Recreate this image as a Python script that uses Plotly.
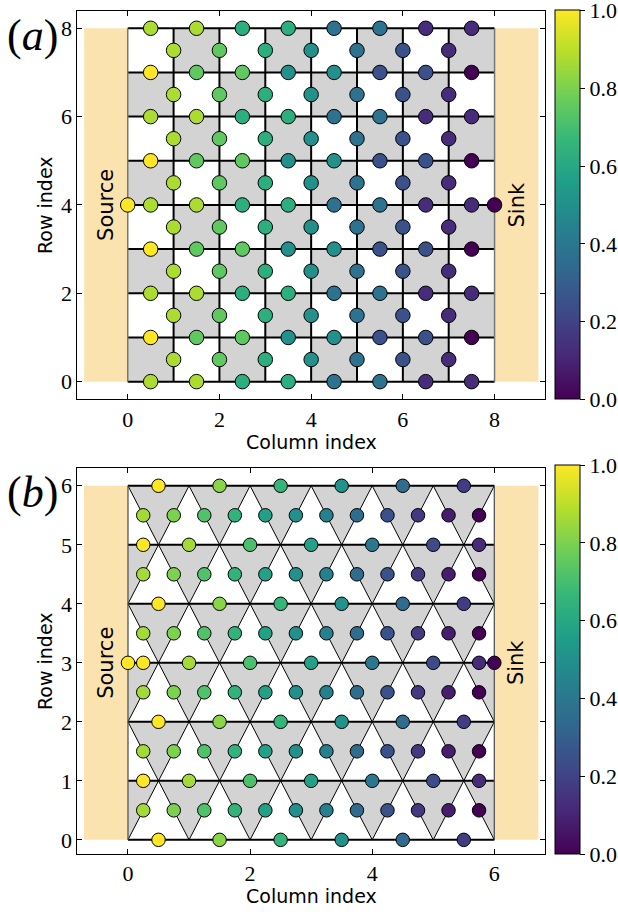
import plotly.graph_objects as go

# ---------------- data: panel (a), square lattice ----------------
# values on horizontal edges, rows 0..8, columns 0..7 (edge centres at c+0.5)
a_h_vals = [
    [0.875, 0.875, 0.625, 0.625, 0.375, 0.375, 0.125, 0.125],  # row 0
    [1.000, 0.750, 0.750, 0.500, 0.500, 0.250, 0.250, 0.000],  # row 1
    [0.875, 0.875, 0.625, 0.625, 0.375, 0.375, 0.125, 0.125],  # row 2
    [1.000, 0.750, 0.750, 0.500, 0.500, 0.250, 0.250, 0.000],  # row 3
    [0.875, 0.875, 0.625, 0.625, 0.375, 0.375, 0.125, 0.125],  # row 4
    [1.000, 0.750, 0.750, 0.500, 0.500, 0.250, 0.250, 0.000],  # row 5
    [0.875, 0.875, 0.625, 0.625, 0.375, 0.375, 0.125, 0.125],  # row 6
    [1.000, 0.750, 0.750, 0.500, 0.500, 0.250, 0.250, 0.000],  # row 7
    [0.875, 0.875, 0.625, 0.625, 0.375, 0.375, 0.125, 0.125],  # row 8
]
# values on vertical edges, bands 0..7 (centre r+0.5), columns x = 1..7
a_v_vals = [
    [0.875, 0.750, 0.625, 0.500, 0.375, 0.250, 0.125],
    [0.875, 0.750, 0.625, 0.500, 0.375, 0.250, 0.125],
    [0.875, 0.750, 0.625, 0.500, 0.375, 0.250, 0.125],
    [0.875, 0.750, 0.625, 0.500, 0.375, 0.250, 0.125],
    [0.875, 0.750, 0.625, 0.500, 0.375, 0.250, 0.125],
    [0.875, 0.750, 0.625, 0.500, 0.375, 0.250, 0.125],
    [0.875, 0.750, 0.625, 0.500, 0.375, 0.250, 0.125],
    [0.875, 0.750, 0.625, 0.500, 0.375, 0.250, 0.125],
]
a_source_val = 1.0
a_sink_val = 0.0
a_ncols = 8
a_nrows = 8

# ---------------- data: panel (b), triangular lattice ----------------
b_h_vals = [
    [1.00, 0.82, 0.66, 0.51, 0.35, 0.18],              # row 0
    [1.00, 0.86, 0.71, 0.57, 0.40, 0.23, 0.12],        # row 1
    [1.00, 0.82, 0.66, 0.51, 0.35, 0.18],              # row 2
    [1.00, 0.86, 0.71, 0.57, 0.40, 0.23, 0.12],        # row 3
    [1.00, 0.82, 0.66, 0.51, 0.35, 0.18],              # row 4
    [1.00, 0.86, 0.71, 0.57, 0.40, 0.23, 0.12],        # row 5
    [1.00, 0.82, 0.66, 0.51, 0.35, 0.18],              # row 6
]
b_d_vals = [
    [0.86, 0.80, 0.72, 0.65, 0.57, 0.50, 0.44, 0.35, 0.25, 0.17, 0.08, 0.00],
    [0.86, 0.80, 0.72, 0.65, 0.57, 0.50, 0.44, 0.35, 0.25, 0.17, 0.08, 0.00],
    [0.86, 0.80, 0.72, 0.65, 0.57, 0.50, 0.44, 0.35, 0.25, 0.17, 0.08, 0.00],
    [0.86, 0.80, 0.72, 0.65, 0.57, 0.50, 0.44, 0.35, 0.25, 0.17, 0.08, 0.00],
    [0.86, 0.80, 0.72, 0.65, 0.57, 0.50, 0.44, 0.35, 0.25, 0.17, 0.08, 0.00],
    [0.86, 0.80, 0.72, 0.65, 0.57, 0.50, 0.44, 0.35, 0.25, 0.17, 0.08, 0.00],
]
b_source_val = 1.0
b_sink_val = 0.0
b_ncols = 6
b_nrows = 6

cbar_ticks = [0.0, 0.2, 0.4, 0.6, 0.8, 1.0]
cbar_ticktext = ["0.0", "0.2", "0.4", "0.6", "0.8", "1.0"]

# ---------------- styling ----------------
W, H = 618, 914
GRAY = "#d3d3d3"
PAD = "#fbe3af"
SERIF = "Liberation Serif"
SANS = "DejaVu Sans"

def px_x(p):
    return p / W

def px_y(p):
    return 1 - p / H

fig = go.Figure()
shapes = []

# ============ panel (a) ============
shapes.append(dict(type="rect", xref="x", yref="y", x0=-0.95, x1=0, y0=0, y1=a_nrows,
                   fillcolor=PAD, line=dict(width=0), layer="below"))
shapes.append(dict(type="rect", xref="x", yref="y", x0=a_ncols, x1=a_ncols + 0.955, y0=0, y1=a_nrows,
                   fillcolor=PAD, line=dict(width=0), layer="below"))
for i in range(a_ncols):
    for j in range(a_nrows):
        if (i + j) % 2 == 0:
            shapes.append(dict(type="rect", xref="x", yref="y", x0=i, x1=i + 1, y0=j, y1=j + 1,
                               fillcolor=GRAY, line=dict(width=0), layer="below"))

lx, ly = [], []
for r in range(a_nrows + 1):
    lx += [0, a_ncols, None]
    ly += [r, r, None]
for c in range(1, a_ncols):
    lx += [c, c, None]
    ly += [0, a_nrows, None]
fig.add_trace(go.Scatter(x=lx, y=ly, mode="lines", line=dict(color="black", width=2),
                         hoverinfo="skip", showlegend=False, xaxis="x", yaxis="y"))
fig.add_trace(go.Scatter(x=[0, 0, None, a_ncols, a_ncols], y=[0, a_nrows, None, 0, a_nrows],
                         mode="lines", line=dict(color="#777777", width=1.5),
                         hoverinfo="skip", showlegend=False, xaxis="x", yaxis="y"))

nx, ny, nv = [], [], []
for r, row in enumerate(a_h_vals):
    for c, v in enumerate(row):
        nx.append(c + 0.5); ny.append(r); nv.append(v)
for b, row in enumerate(a_v_vals):
    for k, v in enumerate(row):
        nx.append(k + 1); ny.append(b + 0.5); nv.append(v)
nx += [0, a_ncols]; ny += [a_nrows / 2, a_nrows / 2]; nv += [a_source_val, a_sink_val]
fig.add_trace(go.Scatter(x=nx, y=ny, mode="markers",
                         marker=dict(size=14.5, color=nv, coloraxis="coloraxis",
                                     line=dict(color="black", width=1)),
                         hoverinfo="skip", showlegend=False, xaxis="x", yaxis="y"))

# ============ panel (b) ============
shapes.append(dict(type="rect", xref="x2", yref="y2", x0=-0.72, x1=0, y0=0, y1=b_nrows,
                   fillcolor=PAD, line=dict(width=0), layer="below"))
shapes.append(dict(type="rect", xref="x2", yref="y2", x0=b_ncols, x1=b_ncols + 0.72, y0=0, y1=b_nrows,
                   fillcolor=PAD, line=dict(width=0), layer="below"))

def vertices(r):
    if r % 2 == 0:
        return [float(k) for k in range(b_ncols + 1)]
    return [k + 0.5 for k in range(b_ncols)]

for r in range(b_nrows):
    top = r + 1
    if top % 2 == 0:
        for k in range(b_ncols):
            path = f"M {k},{top} L {k+1},{top} L {k+0.5},{r} Z"
            shapes.append(dict(type="path", xref="x2", yref="y2", path=path,
                               fillcolor=GRAY, line=dict(width=0), layer="below"))
    else:
        for k in range(b_ncols + 1):
            x0 = max(k - 0.5, 0); x1 = min(k + 0.5, b_ncols)
            if k == 0:
                path = f"M 0,{top} L 0.5,{top} L 0,{r} Z"
            elif k == b_ncols:
                path = f"M {b_ncols-0.5},{top} L {b_ncols},{top} L {b_ncols},{r} Z"
            else:
                path = f"M {x0},{top} L {x1},{top} L {k},{r} Z"
            shapes.append(dict(type="path", xref="x2", yref="y2", path=path,
                               fillcolor=GRAY, line=dict(width=0), layer="below"))

dx, dy = [], []
for r in range(b_nrows):
    bot = vertices(r); top = vertices(r + 1)
    for xb in bot:
        for xt in top:
            if abs(xb - xt) == 0.5:
                dx += [xb, xt, None]; dy += [r, r + 1, None]
fig.add_trace(go.Scatter(x=dx, y=dy, mode="lines", line=dict(color="black", width=1),
                         hoverinfo="skip", showlegend=False, xaxis="x2", yaxis="y2"))
hx, hy = [], []
for r in range(b_nrows + 1):
    hx += [0, b_ncols, None]; hy += [r, r, None]
fig.add_trace(go.Scatter(x=hx, y=hy, mode="lines", line=dict(color="black", width=2),
                         hoverinfo="skip", showlegend=False, xaxis="x2", yaxis="y2"))
fig.add_trace(go.Scatter(x=[0, 0, None, b_ncols, b_ncols], y=[0, b_nrows, None, 0, b_nrows],
                         mode="lines", line=dict(color="#555555", width=1.3),
                         hoverinfo="skip", showlegend=False, xaxis="x2", yaxis="y2"))

mx, my, mv = [], [], []
for r, row in enumerate(b_h_vals):
    if r % 2 == 0:
        xs = [k + 0.5 for k in range(b_ncols)]
    else:
        xs = [0.25] + [float(k) for k in range(1, b_ncols)] + [b_ncols - 0.25]
    for xv, v in zip(xs, row):
        mx.append(xv); my.append(r); mv.append(v)
for r, row in enumerate(b_d_vals):
    for k, v in enumerate(row):
        mx.append(0.25 + 0.5 * k); my.append(r + 0.5); mv.append(v)
mx += [0, b_ncols]; my += [b_nrows / 2, b_nrows / 2]; mv += [b_source_val, b_sink_val]
fig.add_trace(go.Scatter(x=mx, y=my, mode="markers",
                         marker=dict(size=13.5, color=mv, coloraxis="coloraxis2",
                                     line=dict(color="black", width=1)),
                         hoverinfo="skip", showlegend=False, xaxis="x2", yaxis="y2"))

# ---------------- axes ----------------
xdom = [px_x(77.3), px_x(545)]
ya_dom = [px_y(399.3), px_y(10.6)]
yb_dom = [px_y(854.0), px_y(467.5)]

axis_common = dict(ticks="inside", ticklen=5, tickwidth=1, tickcolor="black",
                   mirror="allticks", showline=True, linecolor="black", linewidth=1,
                   showgrid=False, zeroline=False, automargin=False,
                   tickfont=dict(family=SERIF, size=22, color="black"))

cbar_common = dict(thickness=25, thicknessmode="pixels", lenmode="fraction",
                   outlinecolor="black", outlinewidth=1, ticks="outside", ticklen=5,
                   tickcolor="black", tickvals=cbar_ticks, ticktext=cbar_ticktext,
                   ticklabeloverflow="allow",
                   tickfont=dict(family=SERIF, size=22, color="black"),
                   x=px_x(555), xanchor="left", xpad=0, ypad=0, yanchor="middle")

fig.update_layout(
    width=W, height=H,
    margin=dict(l=0, r=0, t=0, b=0, autoexpand=False),
    paper_bgcolor="white", plot_bgcolor="white",
    shapes=shapes,
    xaxis=dict(domain=xdom, range=[-1.1, 9.1], tickvals=[0, 2, 4, 6, 8], anchor="y", **axis_common),
    yaxis=dict(domain=ya_dom, range=[-0.4, 8.4], tickvals=[0, 2, 4, 6, 8], anchor="x", **axis_common),
    xaxis2=dict(domain=xdom, range=[-0.83, 6.83], tickvals=[0, 2, 4, 6], anchor="y2", **axis_common),
    yaxis2=dict(domain=yb_dom, range=[-0.24, 6.31], tickvals=[0, 1, 2, 3, 4, 5, 6], anchor="x2", **axis_common),
    coloraxis=dict(colorscale="Viridis", cmin=0, cmax=1,
                   colorbar=dict(len=(399.3 - 10.6) / H, y=px_y((399.3 + 10.6) / 2), **cbar_common)),
    coloraxis2=dict(colorscale="Viridis", cmin=0, cmax=1,
                    colorbar=dict(len=(854.0 - 465.0) / H, y=px_y((854.0 + 465.0) / 2), **cbar_common)),
)

ann = []
def label(text, x, y, size, family=SANS, angle=0, xref="paper", yref="paper"):
    ann.append(dict(text=text, x=x, y=y, xref=xref, yref=yref, showarrow=False,
                    textangle=angle, xanchor="center", yanchor="middle",
                    font=dict(family=family, size=size, color="black")))

label("(<i>a</i>)", px_x(32), px_y(36), 44, family=SERIF)
label("(<i>b</i>)", px_x(32), px_y(493), 44, family=SERIF)
label("Row index", px_x(45), px_y(205), 19, angle=-90)
label("Row index", px_x(45), px_y(661), 19, angle=-90)
label("Column index", px_x(311), px_y(442), 19)
label("Column index", px_x(311), px_y(896), 19)
label("Source", -0.475, a_nrows / 2, 21, angle=-90, xref="x", yref="y")
label("Sink", a_ncols + 0.48, a_nrows / 2, 21, angle=-90, xref="x", yref="y")
label("Source", -0.36, b_nrows / 2, 21, angle=-90, xref="x2", yref="y2")
label("Sink", b_ncols + 0.36, b_nrows / 2, 21, angle=-90, xref="x2", yref="y2")
fig.update_layout(annotations=ann)

fig.write_html("out.html", config={"displayModeBar": False},
               post_script="document.body.style.margin='0';document.body.style.overflow='hidden';")
